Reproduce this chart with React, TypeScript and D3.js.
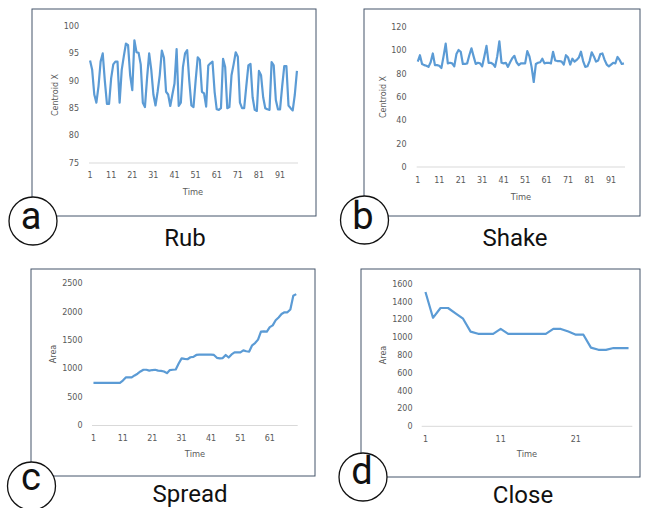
import * as d3 from "d3";

// Rub: centroid X over time
const rubValues = [
  93.7, 92.0, 87.5, 86.0, 89.0, 93.5, 95.0, 90.0, 85.8, 85.8,
  90.5, 93.0, 93.5, 93.5, 86.0, 92.0, 94.5, 96.8, 96.5, 91.0,
  88.3, 97.4, 95.2, 95.1, 93.0, 86.0, 85.2, 90.5, 95.0, 92.0,
  87.5, 85.5, 88.0, 91.0, 95.5, 94.2, 88.0, 87.5, 85.4, 87.5,
  89.5, 95.8, 85.4, 86.0, 92.5, 95.0, 95.6, 90.0, 85.5, 85.2,
  90.0, 94.3, 93.8, 88.0, 87.7, 85.3, 92.8, 93.2, 93.5, 88.0,
  84.8, 84.7, 85.0, 94.0, 92.5, 85.0, 85.2, 91.0, 93.0, 95.2,
  94.4, 86.0, 85.0, 85.0, 89.0, 92.8, 93.1, 87.0, 84.7, 84.5,
  91.8, 91.0, 87.0, 85.0, 84.8, 84.7, 93.4, 92.8, 86.5, 84.8,
  84.8, 89.0, 92.7, 92.7, 85.5, 85.0, 84.6, 87.5, 91.8,
];

// Shake: centroid X over time
const shakeValues = [
  90.5, 96.0, 88.5, 87.5, 87.0, 86.0, 90.0, 97.5, 87.5, 87.5,
  87.0, 85.0, 95.0, 106.0, 89.0, 89.5, 89.0, 86.5, 97.0, 100.5,
  99.0, 88.5, 88.5, 89.0, 96.0, 102.0, 95.0, 88.5, 89.5, 89.0,
  86.5, 95.0, 104.0, 89.5, 89.5, 88.5, 86.0, 95.0, 108.0, 89.5,
  89.0, 89.5, 86.0, 90.0, 93.5, 95.5, 90.0, 87.5, 89.0, 89.0,
  89.0, 99.5, 95.0, 86.0, 73.0, 88.5, 89.5, 90.0, 93.0, 89.0,
  89.5, 89.5, 89.0, 99.0, 91.5, 91.0, 91.0, 90.5, 88.0, 96.0,
  94.0, 88.0, 93.0, 90.5, 92.0, 94.0, 99.0, 91.0, 86.0, 86.5,
  91.0, 98.5, 95.0, 90.5, 91.5, 97.0, 97.5, 92.0, 88.0, 86.5,
  88.0, 89.5, 89.0, 94.5, 92.0, 88.5, 89.0,
];

// Spread: area over time
const spreadValues = [
  750, 750, 750, 750, 750, 750, 750, 750, 750, 750,
  790, 845, 845, 845, 880, 910, 950, 980, 980, 965,
  975, 980, 965, 960, 950, 920, 975, 980, 985, 1090,
  1180, 1170, 1165, 1200, 1205, 1240, 1245, 1245, 1245, 1245,
  1245, 1240, 1190, 1180, 1185, 1240, 1195, 1250, 1285, 1285,
  1285, 1320, 1305, 1300, 1410, 1450, 1510, 1650, 1655, 1650,
  1730, 1760, 1850, 1900, 1960, 1990, 1990, 2040, 2280, 2310,
];

// Close: area over time
const closeValues = [
  1510, 1220, 1330, 1330, 1270, 1210, 1065, 1040, 1040, 1040,
  1095, 1040, 1040, 1040, 1040, 1040, 1040, 1095, 1095, 1065,
  1030, 1030, 885, 860, 860, 880, 880, 880,
];

const rubYTicks = [75, 80, 85, 90, 95, 100];
const shakeYTicks = [0, 20, 40, 60, 80, 100, 120];
const spreadYTicks = [0, 500, 1000, 1500, 2000, 2500];
const closeYTicks = [0, 200, 400, 600, 800, 1000, 1200, 1400, 1600];

const longXTicks = [1, 11, 21, 31, 41, 51, 61, 71, 81, 91];
const spreadXTicks = [1, 11, 21, 31, 41, 51, 61];
const closeXTicks = [1, 11, 21];

const panelLetters = ["a", "b", "c", "d"];
const panelNames = ["Rub", "Shake", "Spread", "Close"];
const yTitles = ["Centroid X", "Centroid X", "Area", "Area"];

const LINE = "#5b9bd5";
const TICK_TEXT = "#595959";
const AXIS = "#d9d9d9";
const FRAME = "#44546a";
const FONT = "'DejaVu Sans', sans-serif";

type Layout = {
  frame: [number, number, number, number]; // x0, y0, x1, y1
  xRange: [number, number];
  yRange: [number, number]; // bottom, top
  yLabelX: number;
  xLabelY: number;
  timeAt: [number, number];
  yTitleAt: [number, number];
  circle: [number, number];
  letterAt: [number, number];
  captionAt: [number, number];
};

const layouts: Layout[] = [
  {
    frame: [32, 9, 316, 216],
    xRange: [89, 298],
    yRange: [163, 26],
    yLabelX: 79,
    xLabelY: 175,
    timeAt: [193, 192],
    yTitleAt: [55, 95],
    circle: [33, 221],
    letterAt: [31, 229],
    captionAt: [185, 246],
  },
  {
    frame: [364, 9, 640, 216],
    xRange: [416.7, 625],
    yRange: [167, 27.3],
    yLabelX: 406.5,
    xLabelY: 180,
    timeAt: [521, 197],
    yTitleAt: [383, 97],
    circle: [364.5, 220],
    letterAt: [363, 229],
    captionAt: [515, 246],
  },
  {
    frame: [31, 269, 315, 476],
    xRange: [92, 297.7],
    yRange: [425.5, 283.3],
    yLabelX: 82.5,
    xLabelY: 438.5,
    timeAt: [195, 454],
    yTitleAt: [53.5, 354],
    circle: [31.5, 486],
    letterAt: [31, 490],
    captionAt: [190, 502],
  },
  {
    frame: [361, 269, 640, 477],
    xRange: [421.7, 632.3],
    yRange: [426.3, 284],
    yLabelX: 412.5,
    xLabelY: 439,
    timeAt: [527, 454.5],
    yTitleAt: [383.5, 355],
    circle: [363, 477],
    letterAt: [362, 484],
    captionAt: [523, 503],
  },
];

const seriesList = [rubValues, shakeValues, spreadValues, closeValues];
const yTickList = [rubYTicks, shakeYTicks, spreadYTicks, closeYTicks];
const xTickList = [longXTicks, longXTicks, spreadXTicks, closeXTicks];

function Panel({ idx }: { idx: number }) {
  const L = layouts[idx];
  const values = seriesList[idx];
  const yTicks = yTickList[idx];
  const xTicks = xTickList[idx];
  const cats = values.map((_, i) => i + 1);

  const x = d3.scalePoint<number>().domain(cats).range(L.xRange).padding(0.5);
  const y = d3
    .scaleLinear()
    .domain([yTicks[0], yTicks[yTicks.length - 1]])
    .range(L.yRange);

  const line = d3
    .line<number>()
    .x((_, i) => x(i + 1) as number)
    .y((d) => y(d));

  const [fx0, fy0, fx1, fy1] = L.frame;

  return (
    <g>
      <rect
        x={fx0}
        y={fy0}
        width={fx1 - fx0}
        height={fy1 - fy0}
        fill="#fff"
        stroke={FRAME}
        strokeWidth={1}
      />
      <line
        x1={L.xRange[0]}
        x2={L.xRange[1]}
        y1={y(yTicks[0])}
        y2={y(yTicks[0])}
        stroke={AXIS}
        strokeWidth={1}
      />
      {yTicks.map((t) => (
        <text
          key={"y" + t}
          x={L.yLabelX}
          y={y(t)}
          dy="0.35em"
          textAnchor="end"
          fontSize={8}
          fill={TICK_TEXT}
          fontFamily={FONT}
        >
          {t}
        </text>
      ))}
      {xTicks.map((t) => (
        <text
          key={"x" + t}
          x={x(t)}
          y={L.xLabelY}
          dy="0.35em"
          textAnchor="middle"
          fontSize={8}
          fill={TICK_TEXT}
          fontFamily={FONT}
        >
          {t}
        </text>
      ))}
      <path
        d={line(values) ?? ""}
        fill="none"
        stroke={LINE}
        strokeWidth={2.2}
        strokeLinejoin="round"
      />
      <text
        x={L.timeAt[0]}
        y={L.timeAt[1]}
        dy="0.35em"
        textAnchor="middle"
        fontSize={8.3}
        fill={TICK_TEXT}
        fontFamily={FONT}
      >
        Time
      </text>
      <text
        transform={`translate(${L.yTitleAt[0]},${L.yTitleAt[1]}) rotate(-90)`}
        dy="0.35em"
        textAnchor="middle"
        fontSize={8}
        fill={TICK_TEXT}
        fontFamily={FONT}
      >
        {yTitles[idx]}
      </text>
      <circle
        cx={L.circle[0]}
        cy={L.circle[1]}
        r={24}
        fill="#fff"
        stroke="#111"
        strokeWidth={1.3}
      />
      <text
        x={L.letterAt[0]}
        y={L.letterAt[1]}
        textAnchor="middle"
        fontSize={38}
        fill="#111"
        fontFamily="Roboto, sans-serif"
      >
        {panelLetters[idx]}
      </text>
      <text
        x={L.captionAt[0]}
        y={L.captionAt[1]}
        textAnchor="middle"
        fontSize={24}
        fill="#111"
        fontFamily="Roboto, sans-serif"
      >
        {panelNames[idx]}
      </text>
    </g>
  );
}

export default function App() {
  return (
    <svg
      width={645}
      height={508}
      style={{ position: "absolute", left: 0, top: 0, background: "#fff" }}
    >
      <rect width={645} height={508} fill="#fff" />
      {layouts.map((_, i) => (
        <Panel key={i} idx={i} />
      ))}
    </svg>
  );
}
